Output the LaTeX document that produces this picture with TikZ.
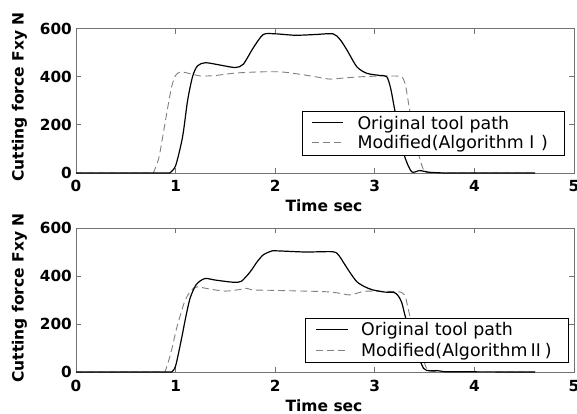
\documentclass[tikz,border=0pt]{standalone}
\usepackage{fontspec}
\setmainfont{DejaVu Sans}
\newfontfamily\jpf{Noto Sans CJK JP}
\begin{document}
\begin{tikzpicture}[x=1pt,y=1pt,
  axbox/.style={draw=black!55, line width=0.9pt},
  tickln/.style={draw=black!55, line width=0.8pt},
  orig/.style={black, line width=1.2pt, line join=round},
  modf/.style={black!50, line width=0.9pt, dash pattern=on 7pt off 4pt},
  ticklab/.style={font=\fontsize{15.3}{15.3}\selectfont\bfseries, inner sep=0pt},
  axlab/.style={font=\fontsize{15.5}{16}\selectfont\bfseries, inner sep=0pt},
  legtxt/.style={font=\fontsize{17.4}{18}\selectfont, inner sep=0pt, anchor=base west},
  legbox/.style={draw=black, fill=white, line width=0.7pt, inner sep=0pt, anchor=north west}]
\useasboundingbox[fill=white] (0,0) rectangle (577,-414);

% ---------------- top axes ----------------
\begin{scope}[shift={(76pt,-173pt)}, x=99.6pt, y=0.2408pt]
  \draw[axbox] (0,0) rectangle (5,600);
  \foreach \t in {1,2,3,4} {
    \draw[tickln] (\t,0) -- ++(0,20.8);
    \draw[tickln] (\t,600) -- ++(0,-20.8);
  }
  \foreach \f in {200,400} {
    \draw[tickln] (0,\f) -- ++(0.05,0);
    \draw[tickln] (5,\f) -- ++(-0.05,0);
  }
  \foreach \f in {0,200,400,600}
    \node[ticklab, anchor=east] (tya\f) at ([xshift=-4pt]0,\f) {\f};
  \foreach \t in {0,1,2,3,4,5}
    \node[ticklab, anchor=base] (txa\t) at ([yshift=-18.7pt]\t,0) {\t};
  % modified (dashed)
  \draw[modf] (0,0) -- (0.776,0) -- plot[smooth, tension=0.45] coordinates {
    (0.776,0) (0.83,60) (0.877,166) (0.92,270) (0.96,358) (1.0,405) (1.05,420)
    (1.12,415) (1.25,403) (1.4,405) (1.6,415) (1.85,420) (2.05,420) (2.2,413)
    (2.4,400) (2.55,390) (2.7,395) (2.88,400) (3.1,403) (3.24,402) (3.28,395)
    (3.31,360) (3.35,262) (3.42,109) (3.49,12) (3.55,2) (3.65,0)} -- (4.61,0);
  % original (solid)
  \draw[orig] (0,0) -- (0.94,0) -- plot[smooth, tension=0.45] coordinates {
    (0.94,0) (1.0,30) (1.07,150) (1.12,300) (1.17,400) (1.22,445) (1.3,458)
    (1.45,448) (1.6,438) (1.68,452) (1.78,520) (1.88,575) (2.0,578) (2.2,572)
    (2.4,575) (2.58,578) (2.65,555) (2.72,511) (2.82,441) (2.92,414) (3.05,405)
    (3.12,400) (3.16,350) (3.2,262) (3.25,160) (3.30,68) (3.37,5) (3.45,10)
    (3.55,3) (3.7,0)} -- (4.61,0);
\end{scope}
\node[axlab, rotate=90] (ylaba) at (19.5,-97) {Cutting force Fxy N};
\node[axlab, anchor=base] (xlaba) at (324,-211) {Time sec};
% top legend
\node[legbox, minimum width=262.6pt, minimum height=44pt] (lega) at (301.7,-111) {};
\coordinate (lasa) at (311.7,-122.3); \coordinate (lasb) at (343.3,-122.3);
\coordinate (ladA) at (311.7,-142.7); \coordinate (ladB) at (343.3,-142.7);
\draw[orig, line width=1pt] (lasa) -- (lasb);
\draw[modf] (ladA) -- (ladB);
\node[legtxt] (legat1) at (357.3,-129.3) {Original tool path};
\node[legtxt] (legat2) at (357.3,-149) {Modified(Algorithm{\jpf Ⅰ})};

% ---------------- bottom axes ----------------
\begin{scope}[shift={(76pt,-372pt)}, x=99.6pt, y=0.24pt]
  \draw[axbox] (0,0) rectangle (5,600);
  \foreach \t in {1,2,3,4} {
    \draw[tickln] (\t,0) -- ++(0,20.8);
    \draw[tickln] (\t,600) -- ++(0,-20.8);
  }
  \foreach \f in {200,400} {
    \draw[tickln] (0,\f) -- ++(0.05,0);
    \draw[tickln] (5,\f) -- ++(-0.05,0);
  }
  \foreach \f in {0,200,400,600}
    \node[ticklab, anchor=east] (tyb\f) at ([xshift=-4pt]0,\f) {\f};
  \foreach \t in {0,1,2,3,4,5}
    \node[ticklab, anchor=base] (txb\t) at ([yshift=-19.5pt]\t,0) {\t};
  % modified (dashed)
  \draw[modf] (0,0) -- (0.894,0) -- plot[smooth, tension=0.45] coordinates {
    (0.894,0) (0.95,75) (1.01,182) (1.05,240) (1.09,293) (1.13,325) (1.18,349)
    (1.22,355) (1.35,345) (1.5,337) (1.65,344) (1.71,349) (1.78,342) (2.0,340)
    (2.48,335) (2.62,330) (2.75,321) (2.85,332) (2.92,337) (3.22,335) (3.28,328)
    (3.31,310) (3.35,237) (3.44,112) (3.52,15) (3.58,3) (3.7,0)} -- (4.61,0);
  % original (solid)
  \draw[orig] (0,0) -- (0.96,0) -- plot[smooth, tension=0.45] coordinates {
    (0.96,0) (1.0,25) (1.06,140) (1.10,225) (1.145,307) (1.2,360) (1.245,379)
    (1.3,390) (1.4,383) (1.58,374) (1.66,378) (1.75,418) (1.82,460) (1.88,488)
    (1.95,502) (2.0,505) (2.3,500) (2.58,501) (2.64,485) (2.68,460) (2.75,415)
    (2.82,376) (2.9,355) (2.98,342) (3.1,333) (3.19,332) (3.23,320) (3.27,290)
    (3.32,210) (3.42,85) (3.49,15) (3.55,5) (3.62,6) (3.7,1)} -- (4.61,0);
\end{scope}
\node[axlab, rotate=90] (ylabb) at (19.5,-298) {Cutting force Fxy N};
\node[axlab, anchor=base] (xlabb) at (324,-411) {Time sec};
% bottom legend
\node[legbox, minimum width=263.3pt, minimum height=44.6pt] (legb) at (305,-317.7) {};
\coordinate (lbsa) at (316,-329); \coordinate (lbsb) at (348.3,-329);
\coordinate (lbdA) at (316,-350); \coordinate (lbdB) at (348.3,-350);
\draw[orig, line width=1pt] (lbsa) -- (lbsb);
\draw[modf] (lbdA) -- (lbdB);
\node[legtxt] (legbt1) at (361,-335.7) {Original tool path};
\node[legtxt] (legbt2) at (361,-356) {Modified(Algorithm{\jpf Ⅱ})};
\end{tikzpicture}
\end{document}
